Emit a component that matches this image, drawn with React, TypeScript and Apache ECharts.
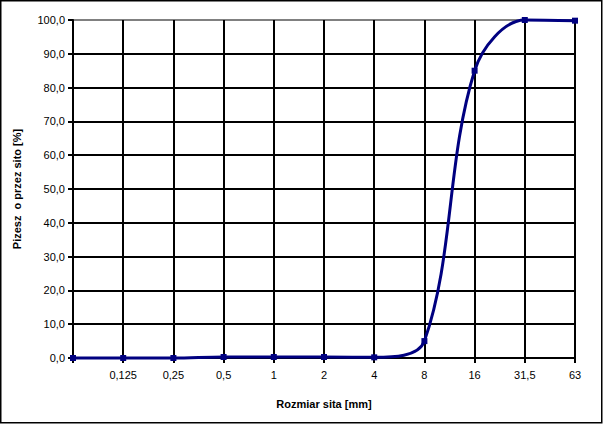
import React, { useEffect, useRef } from "react";
import * as echarts from "echarts";

const categories = ["", "0,125", "0,25", "0,5", "1", "2", "4", "8", "16", "31,5", "63"];
const passing = [0, 0, 0, 0.3, 0.3, 0.3, 0.2, 5, 85, 100, 99.8];
const yTicks = [0, 10, 20, 30, 40, 50, 60, 70, 80, 90, 100];

const FONT = "'Liberation Sans', Arial, Helvetica, sans-serif";

export default function App() {
  const ref = useRef<HTMLDivElement>(null);
  useEffect(() => {
    document.body.style.margin = "0";
    const chart = echarts.init(ref.current!, null, { renderer: "svg" });
    const splitColors = yTicks.map((v) => (v === 100 ? "#808080" : "#000000"));
    chart.setOption({
      animation: false,
      backgroundColor: "#ffffff",
      textStyle: { fontFamily: FONT },
      graphic: [
        {
          type: "rect",
          shape: { x: 0.75, y: 0.75, width: 601, height: 422 },
          style: { fill: "none", stroke: "#000", lineWidth: 1.5 },
          silent: true,
        },
      ],
      grid: { left: 73, right: 28, top: 20, bottom: 66, containLabel: false },
      xAxis: {
        type: "category",
        data: categories,
        boundaryGap: false,
        name: "Rozmiar sita [mm]",
        nameLocation: "middle",
        nameGap: 40,
        nameTextStyle: { fontFamily: FONT, fontWeight: "bold", fontSize: 11, color: "#000" },
        axisLine: { lineStyle: { color: "#000", width: 2 } },
        axisTick: { show: true, length: 5, lineStyle: { color: "#000", width: 2 } },
        axisLabel: { color: "#000", fontSize: 11, fontFamily: FONT, margin: 11, interval: 0 },
        splitLine: { show: true, lineStyle: { color: "#000", width: 2 } },
      },
      yAxis: {
        type: "value",
        min: 0,
        max: 100,
        interval: 10,
        name: "Pizesz  o przez sito [%]",
        nameLocation: "middle",
        nameGap: 51,
        nameTextStyle: { fontFamily: FONT, fontWeight: "bold", fontSize: 11, color: "#000" },
        axisLine: { show: true, lineStyle: { color: "#000", width: 2 } },
        axisTick: { show: true, length: 5, lineStyle: { color: "#000", width: 2 } },
        axisLabel: {
          color: "#000",
          fontSize: 11,
          fontFamily: FONT,
          margin: 8,
          formatter: (v: number) => v.toFixed(1).replace(".", ","),
        },
        splitLine: { show: true, lineStyle: { color: splitColors, width: 2 } },
      },
      series: [
        {
          type: "line",
          data: passing,
          smooth: 0.35,
          clip: false,
          symbol: "rect",
          symbolSize: 6,
          itemStyle: { color: "#000080" },
          lineStyle: { color: "#000080", width: 3 },
          z: 5,
        },
      ],
    });
    return () => chart.dispose();
  }, []);
  return (
    <div
      ref={ref}
      style={{ position: "absolute", left: 0, top: 0, width: 603, height: 424 }}
    />
  );
}
